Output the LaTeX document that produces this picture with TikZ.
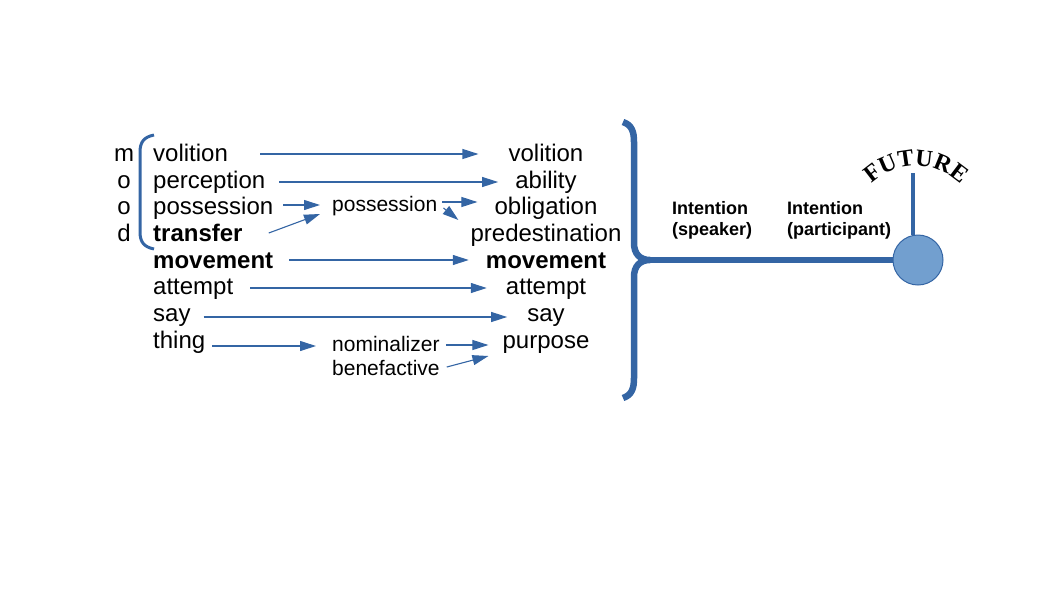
\documentclass[tikz,border=0pt]{standalone}
\usepackage{fontspec}
\setmainfont{Liberation Sans}
\newfontfamily\futfont{Liberation Serif}
\usetikzlibrary{arrows.meta,calc,decorations.text}
\definecolor{lblue}{HTML}{3465A4}
\definecolor{cfill}{HTML}{729FCF}
\begin{document}
\begin{tikzpicture}[x=1pt,y=-1pt,
  word/.style={inner sep=0pt,font=\fontsize{24}{27}\selectfont},
  lw/.style={word,anchor=base west},
  rw/.style={word,anchor=base},
  mw/.style={inner sep=0pt,anchor=base west,font=\fontsize{21}{24}\selectfont},
  iw/.style={inner sep=0pt,anchor=base west,font=\fontsize{18}{20}\selectfont\bfseries},
  arr/.style={draw=lblue,line width=1.1pt,-{Triangle[length=16pt,width=10pt]}},
  thick blue/.style={draw=lblue,line width=6.5pt},
]
\useasboundingbox (0,0) rectangle (1058,595);

% mood letters
\node[rw] (m1) at (124,161) {m};
\node[rw] (m2) at (124,188) {o};
\node[rw] (m3) at (124,214) {o};
\node[rw] (m4) at (124,241) {d};

% left bracket
\draw[lblue,line width=3pt] (154,135) .. controls (144,137) and (140,142) .. (140,152)
  -- (140,232) .. controls (140,242) and (144,247) .. (154,249);

% left column
\node[lw] (lvol) at (153,161) {volition};
\node[lw] (lper) at (153,188) {perception};
\node[lw] (lpos) at (153,214) {possession};
\node[lw,font=\fontsize{24}{27}\selectfont\bfseries] (ltra) at (153,241) {transfer};
\node[lw,font=\fontsize{24}{27}\selectfont\bfseries] (lmov) at (153,268) {movement};
\node[lw] (latt) at (153,294) {attempt};
\node[lw] (lsay) at (153,321) {say};
\node[lw] (lthi) at (153,348) {thing};

% middle
\node[mw] (mpos) at (332,211) {possession};
\node[mw] (mnom) at (332,351) {nominalizer};
\node[mw] (mben) at (332,375) {benefactive};

% right column
\node[rw] (rvol) at (546,161) {volition};
\node[rw] (rabi) at (546,188) {ability};
\node[rw] (robl) at (546,214) {obligation};
\node[rw] (rpre) at (546,241) {predestination};
\node[rw,font=\fontsize{24}{27}\selectfont\bfseries] (rmov) at (546,268) {movement};
\node[rw] (ratt) at (546,294) {attempt};
\node[rw] (rsay) at (546,321) {say};
\node[rw] (rpur) at (546,348) {purpose};

% arrows
\draw[arr] ([xshift=32pt,yshift=7pt]lvol.base east) -- ([xshift=-30pt,yshift=7pt]rvol.base west);
\draw[arr] ([xshift=14pt,yshift=6pt]lper.base east) -- ([xshift=-17pt,yshift=6pt]rabi.base west);
\draw[arr] ([xshift=10pt,yshift=9pt]lpos.base east) -- ([xshift=-12pt,yshift=6pt]mpos.base west);
\draw[arr] ([xshift=26pt,yshift=8pt]ltra.base east) -- ([xshift=-12pt,yshift=-3pt]mpos.base west);
\draw[arr] ([xshift=5pt,yshift=9pt]mpos.base east) -- ([xshift=-17pt,yshift=12pt]robl.base west);
\draw[arr] ([xshift=6pt,yshift=3pt]mpos.base east) -- ([xshift=-12pt,yshift=21pt]rpre.base west);
\draw[arr] ([xshift=16pt,yshift=8pt]lmov.base east) -- ([xshift=-17pt,yshift=8pt]rmov.base west);
\draw[arr] ([xshift=17pt,yshift=6pt]latt.base east) -- ([xshift=-19pt,yshift=6pt]ratt.base west);
\draw[arr] ([xshift=13pt,yshift=4pt]lsay.base east) -- ([xshift=-20pt,yshift=4pt]rsay.base west);
\draw[arr] ([xshift=7pt,yshift=2pt]lthi.base east) -- ([xshift=-16pt,yshift=5pt]mnom.base west);
\draw[arr] ([xshift=6pt,yshift=6pt]mnom.base east) -- ([xshift=-14pt,yshift=3pt]rpur.base west);
\draw[arr] ([xshift=7pt,yshift=8pt]mben.base east) -- ([xshift=-14pt,yshift=-8pt]rpur.base west);

% right brace
\coordinate (tip) at (650,260);
\draw[thick blue] (623,122) .. controls (632,125) and (634,132) .. (634,142)
  -- (634,243) .. controls (634,254) and (640,260) .. (tip)
  .. controls (640,260) and (634,266) .. (634,277)
  -- (634,378) .. controls (634,388) and (632,395) .. (623,398);

% timeline
\node[circle,draw=lblue,line width=1pt,fill=cfill,minimum size=50pt,inner sep=0pt] (circ) at (918,260) {};
\draw[thick blue] (tip) -- (circ.west);
\coordinate (ftop) at (913,173);
\draw[lblue,line width=3.5pt] (ftop) -- (ftop |- circ.north);

% labels
\node[iw] (i1a) at (672,214) {Intention};
\node[iw] (i1b) at (672,235) {(speaker)};
\node[iw] (i2a) at (787,214) {Intention};
\node[iw] (i2b) at (787,235) {(participant)};

% FUTURE arched
\path[decorate,decoration={text along path,text={|\fontsize{24}{24}\selectfont\futfont\bfseries|FUTURE},text align=center}]
  (916,230) ++(226:64) arc[start angle=226,end angle=314,radius=64];
\end{tikzpicture}
\end{document}
